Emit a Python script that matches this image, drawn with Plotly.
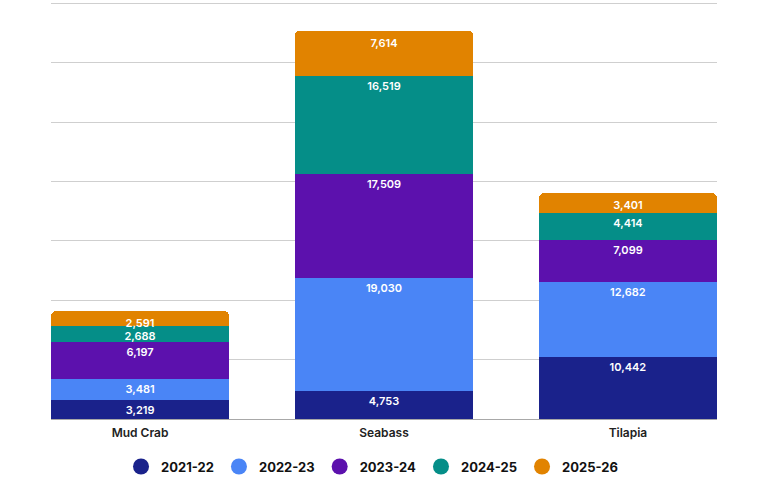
import plotly.graph_objects as go

# data
species = ['Mud Crab', 'Seabass', 'Tilapia']
seasons = ['2021-22', '2022-23', '2023-24', '2024-25', '2025-26']
v_2021_22 = [3219, 4753, 10442]
v_2022_23 = [3481, 19030, 12682]
v_2023_24 = [6197, 17509, 7099]
v_2024_25 = [2688, 16519, 4414]
v_2025_26 = [2591, 7614, 3401]

series = [v_2021_22, v_2022_23, v_2023_24, v_2024_25, v_2025_26]
colors = ['#1a228b', '#4a85f6', '#5c11ad', '#058e88', '#e18300']

fig = go.Figure()
for name, vals, col in zip(seasons, series, colors):
    fig.add_trace(go.Bar(
        x=species, y=vals, name=name, showlegend=False,
        marker=dict(color=col, line=dict(width=0)),
        text=[f'{v:,}' for v in vals],
        textposition='inside', insidetextanchor='end',
        textfont=dict(family='Inter', size=11, color='white', weight=600),
        hoverinfo='x+y+name',
    ))

# round legend markers
for name, col in zip(seasons, colors):
    fig.add_trace(go.Scatter(
        x=[None], y=[None], mode='markers', name=name,
        marker=dict(color=col, size=16, symbol='circle'),
        hoverinfo='skip',
    ))

fig.update_layout(
    barmode='stack',
    bargap=0.27,
    barcornerradius=5,
    width=768, height=491,
    margin=dict(l=51, r=51, t=2, b=72),
    plot_bgcolor='white', paper_bgcolor='white',
    uniformtext=dict(minsize=11, mode='show'),
    showlegend=True,
    legend=dict(orientation='h', x=0.482, xanchor='center', y=-0.078, yanchor='top',
                font=dict(family='Inter', size=13, color='#111', weight=700),
                itemsizing='trace', traceorder='normal', itemwidth=30),
    xaxis=dict(range=[-0.365, 2.365], showgrid=False, showline=False,
               tickfont=dict(family='Inter', size=12, color='#222', weight=600),
               ticks='', ticklabelstandoff=5),
    yaxis=dict(range=[0, 70250], dtick=10000, showticklabels=False,
               gridcolor='#cfcfcf', gridwidth=1, zeroline=True,
               zerolinecolor='#a8a8a8', zerolinewidth=1),
)

fig.write_html('out.html', config={'displayModeBar': False},
               post_script="document.body.style.margin='0';")
